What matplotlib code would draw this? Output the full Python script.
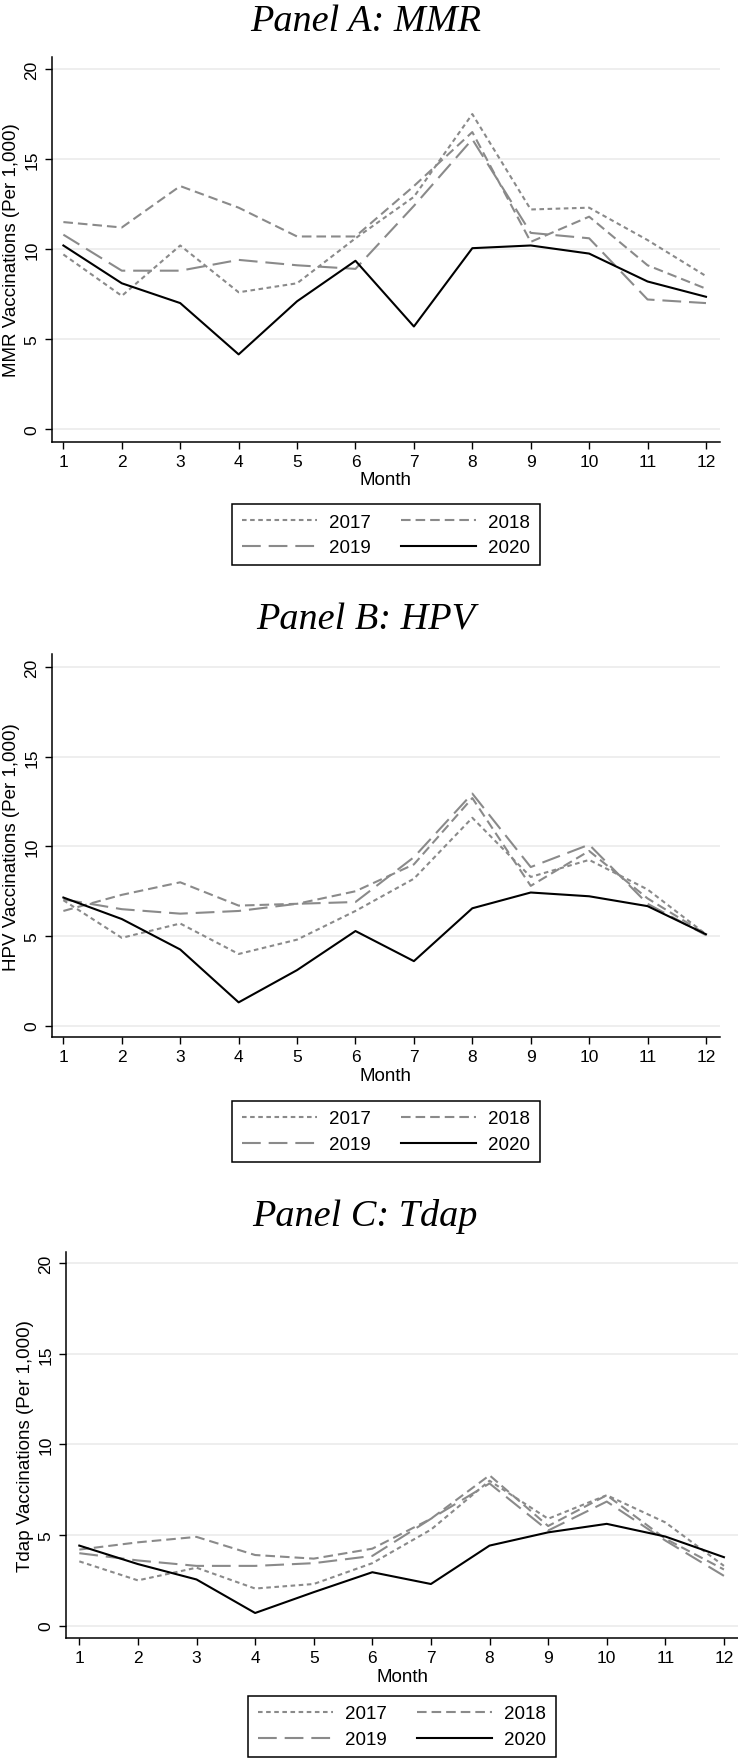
import numpy as np
import matplotlib.pyplot as plt
from matplotlib.lines import Line2D

plt.rcParams['font.family'] = ['Liberation Sans', 'DejaVu Sans']

# ── data ──────────────────────────────────────────────────────────────────────
months = np.arange(1, 13)
month_labels = [str(m) for m in months]
years = ['2017', '2018', '2019', '2020']

mmr_2017 = [9.7, 7.4, 10.2, 7.6, 8.1, 10.6, 12.9, 17.5, 12.2, 12.3, 10.5, 8.5]
mmr_2018 = [11.5, 11.2, 13.5, 12.3, 10.7, 10.7, 13.5, 16.5, 10.4, 11.8, 9.1, 7.8]
mmr_2019 = [10.8, 8.8, 8.8, 9.4, 9.1, 8.9, 12.4, 16.1, 10.9, 10.6, 7.2, 7.0]
mmr_2020 = [10.2, 8.1, 7.0, 4.15, 7.1, 9.35, 5.7, 10.05, 10.2, 9.75, 8.2, 7.35]

hpv_2017 = [7.0, 4.9, 5.7, 4.0, 4.8, 6.4, 8.2, 11.6, 8.3, 9.25, 7.6, 5.1]
hpv_2018 = [6.4, 7.3, 8.0, 6.7, 6.8, 7.5, 9.0, 12.7, 7.8, 9.75, 7.1, 5.1]
hpv_2019 = [7.05, 6.5, 6.25, 6.4, 6.8, 6.9, 9.4, 12.95, 8.85, 10.1, 6.8, 5.05]
hpv_2020 = [7.15, 5.95, 4.25, 1.3, 3.1, 5.28, 3.6, 6.55, 7.43, 7.22, 6.67, 5.1]

tdap_2017 = [3.55, 2.5, 3.2, 2.05, 2.3, 3.45, 5.3, 8.0, 5.9, 7.2, 5.7, 3.3]
tdap_2018 = [4.2, 4.6, 4.9, 3.9, 3.7, 4.25, 5.9, 8.3, 5.5, 7.2, 4.8, 3.1]
tdap_2019 = [4.0, 3.6, 3.3, 3.3, 3.45, 3.85, 5.9, 7.85, 5.25, 6.85, 4.7, 2.75]
tdap_2020 = [4.42, 3.4, 2.55, 0.7, 1.85, 2.95, 2.3, 4.42, 5.15, 5.62, 4.92, 3.78]

yticks = [0, 5, 10, 15, 20]

# ── styles ────────────────────────────────────────────────────────────────────
GREY = '#8a8a8a'
STYLE = {
    '2017': dict(color=GREY, ls=(0, (2.2, 1.7))),
    '2018': dict(color=GREY, ls=(0, (4.6, 2.4))),
    '2019': dict(color=GREY, ls=(0, (9.0, 3.8))),
    '2020': dict(color='black', ls='-'),
}
LW = 1.5

W, H = 738, 1765
fig = plt.figure(figsize=(W / 100, H / 100), dpi=100)


def px_axes(left, top, right, bottom):
    return fig.add_axes([left / W, 1 - bottom / H, (right - left) / W, (bottom - top) / H])


panels = [
    dict(title='Panel A: MMR', ylabel='MMR Vaccinations (Per 1,000)',
         series=[mmr_2017, mmr_2018, mmr_2019, mmr_2020],
         box=(51.7, 58, 720, 442.7), xlim=(0.80, 12.24), ylim=(-0.70, 20.67),
         title_y=31, leg_top=505),
    dict(title='Panel B: HPV', ylabel='HPV Vaccinations (Per 1,000)',
         series=[hpv_2017, hpv_2018, hpv_2019, hpv_2020],
         box=(51.7, 655, 720, 1038.3), xlim=(0.80, 12.24), ylim=(-0.65, 20.74),
         title_y=629, leg_top=1102),
    dict(title='Panel C: Tdap', ylabel='Tdap Vaccinations (Per 1,000)',
         series=[tdap_2017, tdap_2018, tdap_2019, tdap_2020],
         box=(66, 1252.7, 738, 1639), xlim=(0.773, 12.24), ylim=(-0.68, 20.64),
         title_y=1226, leg_top=1697),
]

for p in panels:
    l, t, r, b = p['box']
    ax = px_axes(l, t, r, b)

    for yr, vals in zip(years, p['series']):
        st = STYLE[yr]
        ax.plot(months, vals, color=st['color'], ls=st['ls'], lw=LW,
                dash_capstyle='butt', zorder=3)

    ax.set_xlim(*p['xlim'])
    ax.set_ylim(*p['ylim'])
    ax.set_xticks(months)
    ax.set_xticklabels(month_labels)
    ax.set_yticks(yticks)
    ax.set_yticklabels([str(v) for v in yticks], rotation=90, va='center')
    ax.grid(axis='y', color='#ebebeb', lw=1.2)
    ax.set_axisbelow(True)

    for s in ['top', 'right']:
        ax.spines[s].set_visible(False)
    for s in ['left', 'bottom']:
        ax.spines[s].set_linewidth(1.1)

    ax.tick_params(axis='both', direction='out', length=5, width=1.0,
                   labelsize=12.5, pad=4)
    ax.tick_params(axis='x', pad=3.5)
    ax.set_xlabel('Month', fontsize=13.5, labelpad=2)
    ax.set_ylabel(p['ylabel'], fontsize=13.5, labelpad=3)

    fig.text(0.495, 1 - p['title_y'] / H, p['title'], ha='center', va='baseline',
             family='Liberation Serif', style='italic', fontsize=27.5)

    handles = [Line2D([], [], color=STYLE[y]['color'], ls=STYLE[y]['ls'], lw=LW)
               for y in ['2017', '2019', '2018', '2020']]
    labels = ['2017', '2019', '2018', '2020']
    leg = fig.legend(handles, labels, ncol=2, loc='upper center',
                     bbox_to_anchor=(((l + r) / 2) / W, 1 - p['leg_top'] / H),
                     bbox_transform=fig.transFigure,
                     frameon=True, fancybox=False, edgecolor='black',
                     framealpha=1, fontsize=13.5, handlelength=4.0,
                     handletextpad=0.66, columnspacing=1.6, borderpad=0.5,
                     labelspacing=0.45, borderaxespad=0)
    leg.get_frame().set_linewidth(1.1)

fig.savefig('out.png', dpi=100, facecolor='white')
